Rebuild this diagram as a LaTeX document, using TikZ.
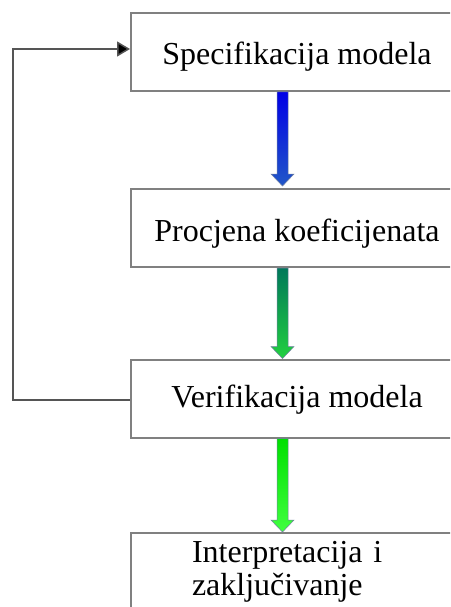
\documentclass[tikz,border=0pt]{standalone}
\usepackage{fontspec}
\setmainfont{Liberation Serif}
\usetikzlibrary{calc,arrows.meta}
\definecolor{boxedge}{HTML}{808080}
\definecolor{lineedge}{HTML}{555555}
\definecolor{arrowedge}{HTML}{7080A0}
\definecolor{blueA}{HTML}{0000E6}
\definecolor{blueB}{HTML}{2258C8}
\definecolor{greenA}{HTML}{00785A}
\definecolor{greenB}{HTML}{22D040}
\definecolor{limeA}{HTML}{00E000}
\definecolor{limeB}{HTML}{40FF40}
\tikzset{
  stagebox/.style={draw=boxedge, line width=2pt, fill=white, minimum width=332pt,
    minimum height=78pt, inner sep=0pt, font=\fontsize{32}{33}\selectfont},
  oneline/.style={text height=30pt, text depth=4pt},
  onelinehigh/.style={text height=22pt, text depth=4pt},
  twoline/.style={text width=210pt, align=left},
  feedback/.style={draw=lineedge, line width=1.5pt, -{Triangle[length=13pt,width=15pt,fill=black]}}
}
\newcommand\fatarrow[4]{%
  \shade[top color=#3, bottom color=#4, draw=arrowedge, line width=0.5pt]
    ($(#1)+(-5.5,0)$) -- ($(#2)+(-5.5,-12)$) -- ($(#2)+(-11.5,-12)$) -- (#2)
    -- ($(#2)+(11.5,-12)$) -- ($(#2)+(5.5,-12)$) -- ($(#1)+(5.5,0)$) -- cycle;}
\begin{document}
\begin{tikzpicture}[x=1pt, y=-1pt]
\useasboundingbox (0,0) rectangle (450,607);
\fill[white] (0,0) rectangle (450,607);
\clip (0,0) rectangle (450,607);

\node[stagebox, oneline] (b1) at (297,52) {Specifikacija modela};
\node[stagebox, oneline] (b2) at (297,228) {Procjena koeficijenata};
\node[stagebox, onelinehigh] (b3) at (297,398.5) {Verifikacija modela};
\node[stagebox, twoline] (b4) at (297,572) {Interpretacija i\\zaključivanje};

\coordinate (ax) at (282.5,0);
\coordinate (fb) at (13,0);

\coordinate (s1) at (ax |- b1.south);
\coordinate (t1) at ([yshift=2pt]ax |- b2.north);
\coordinate (s2) at (ax |- b2.south);
\coordinate (t2) at (ax |- b3.north);
\coordinate (s3) at (ax |- b3.south);
\coordinate (t3) at (ax |- b4.north);

\fatarrow{s1}{t1}{blueA}{blueB}
\fatarrow{s2}{t2}{greenA}{greenB}
\fatarrow{s3}{t3}{limeA}{limeB}

\coordinate (f0) at ([yshift=-1.5pt]b3.west);
\coordinate (f1) at ([yshift=3pt]b1.west);
\draw[feedback] (f0) -- (f0 -| fb) |- (f1);
\end{tikzpicture}
\end{document}
